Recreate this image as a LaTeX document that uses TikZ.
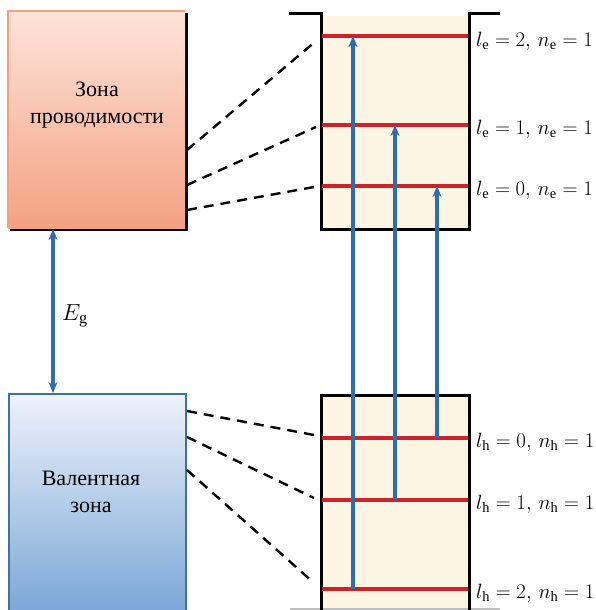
\documentclass[tikz,border=0pt]{standalone}
\usepackage{fontspec}
\setmainfont{Liberation Serif}
\usetikzlibrary{arrows.meta}
\definecolor{lvred}{HTML}{CC2229}
\definecolor{arrblue}{HTML}{2E6EB0}
\definecolor{wellfill}{HTML}{FDF5E4}
\definecolor{orTop}{HTML}{FDE4DA}
\definecolor{orBot}{HTML}{F4A183}
\definecolor{orBorder}{HTML}{F4A080}
\definecolor{blTop}{HTML}{EEF2FA}
\definecolor{blBot}{HTML}{7BA7D7}
\definecolor{blBorder}{HTML}{41719C}
\newcommand{\mylab}[1]{\scalebox{1.2}{$#1$}}
\tikzset{
  level/.style={draw=lvred, line width=3.4pt},
  wall/.style={draw=black, line width=3pt},
  trans/.style={draw=arrblue, line width=3.2pt, -{Stealth[length=11pt,width=9pt]}},
  dashl/.style={draw=black, line width=2.4pt, dash pattern=on 10pt off 7pt},
  lab/.style={anchor=west, font=\fontsize{17.28}{20}\selectfont, inner sep=0pt},
  zone/.style={font=\fontsize{22}{27}\selectfont, align=center}
}
\begin{document}
\begin{tikzpicture}[x=1pt,y=-1pt]
\useasboundingbox (0,0) rectangle (595,610);
% conduction band box with shadow
\fill[black] (10,13) rectangle (187.5,230.5);
\shade[top color=orTop, bottom color=orBot] (8,11) rectangle (185,228);
\draw[orBorder, line width=1.4pt] (8,228) -- (8,11) -- (185,11);
\node[zone] (cb) at (97,105) {Зона\\проводимости};
% valence band box
\shade[top color=blTop, bottom color=blBot] (9,394) rectangle (186,612);
\draw[blBorder, line width=2.4pt] (9,612) -- (9,394) -- (186,394) -- (186,612);
\node[zone] (vb) at (91,492) {Валентная\\зона};
% band gap arrow
\coordinate (gt) at (53,229);
\coordinate (gb) at (53,393);
\draw[draw=arrblue, line width=3.2pt, {Stealth[length=11pt,width=9pt]}-{Stealth[length=11pt,width=9pt]}] (gt) -- (gb);
\node[font=\fontsize{17.28}{20}\selectfont, anchor=west, inner sep=0pt] (eg) at (62,316) {\scalebox{1.35}{$E_{\mathrm{g}}$}};
% top well
\fill[wellfill] (321,16) rectangle (469,228);
\draw[wall] (289,14) -- (321,14) -- (321,229) -- (469,229) -- (469,14) -- (500,14);
% bottom well
\fill[wellfill] (321,395) rectangle (469,610);
\draw[gray!50, line width=1.2pt] (290,609) -- (500,609);
\draw[wall] (321,612) -- (321,395) -- (469,395) -- (469,612);
% electron levels
\coordinate (e2l) at (322,36); \coordinate (e2r) at (468,36);
\coordinate (e1l) at (322,125); \coordinate (e1r) at (468,125);
\coordinate (e0l) at (322,186); \coordinate (e0r) at (468,186);
\draw[level] (e2l) -- (e2r);
\draw[level] (e1l) -- (e1r);
\draw[level] (e0l) -- (e0r);
% hole levels
\coordinate (h0l) at (322,438); \coordinate (h0r) at (468,438);
\coordinate (h1l) at (322,500); \coordinate (h1r) at (468,500);
\coordinate (h2l) at (322,589); \coordinate (h2r) at (468,589);
\draw[level] (h0l) -- (h0r);
\draw[level] (h1l) -- (h1r);
\draw[level] (h2l) -- (h2r);
% labels
\node[lab] (le2) at (476,41) {\mylab{l_{\mathrm{e}}=2,\,n_{\mathrm{e}}=1}};
\node[lab] (le1) at (476,129) {\mylab{l_{\mathrm{e}}=1,\,n_{\mathrm{e}}=1}};
\node[lab] (le0) at (476,190) {\mylab{l_{\mathrm{e}}=0,\,n_{\mathrm{e}}=1}};
\node[lab] (lh0) at (476,442) {\mylab{l_{\mathrm{h}}=0,\,n_{\mathrm{h}}=1}};
\node[lab] (lh1) at (476,504) {\mylab{l_{\mathrm{h}}=1,\,n_{\mathrm{h}}=1}};
\node[lab] (lh2) at (476,593) {\mylab{l_{\mathrm{h}}=2,\,n_{\mathrm{h}}=1}};
% transitions
\coordinate (a1s) at (353,589); \coordinate (a1e) at (353,36);
\coordinate (a2s) at (395,500); \coordinate (a2e) at (395,125);
\coordinate (a3s) at (437,438); \coordinate (a3e) at (437,186);
\draw[trans] (a1s) -- (a1e);
\draw[trans] (a2s) -- (a2e);
\draw[trans] (a3s) -- (a3e);
% dashed connectors
\coordinate (c1) at (187,150); \coordinate (c2) at (187,185); \coordinate (c3) at (187,210);
\coordinate (d1) at (316,41); \coordinate (d2) at (316,127); \coordinate (d3) at (314,187);
\draw[dashl] (c1) -- (d1);
\draw[dashl] (c2) -- (d2);
\draw[dashl] (c3) -- (d3);
\coordinate (v1) at (187,411); \coordinate (v2) at (187,437); \coordinate (v3) at (187,470);
\coordinate (w1) at (314,435); \coordinate (w2) at (314,498); \coordinate (w3) at (314,583);
\draw[dashl] (v1) -- (w1);
\draw[dashl] (v2) -- (w2);
\draw[dashl] (v3) -- (w3);
\end{tikzpicture}
\end{document}
